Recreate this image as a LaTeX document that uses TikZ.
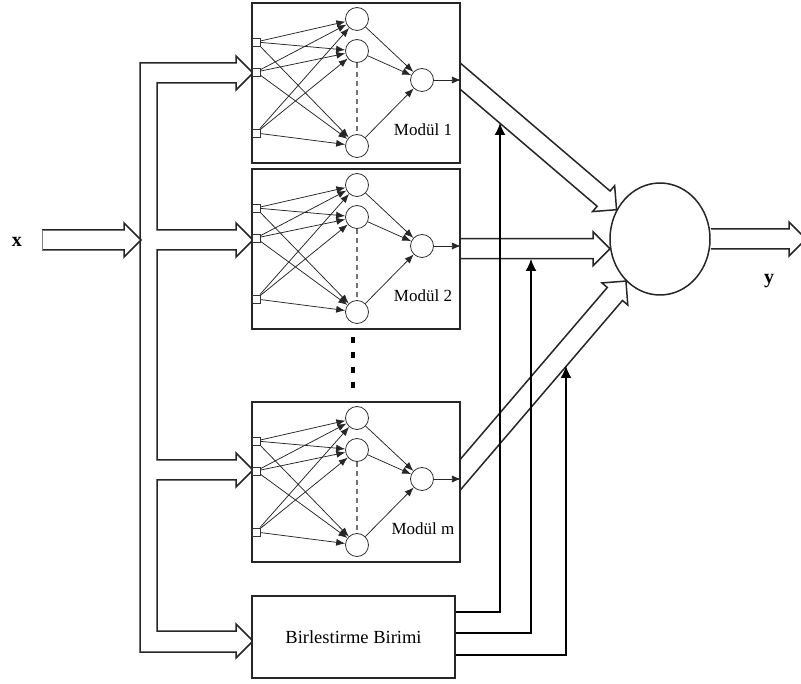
\documentclass[tikz,border=0pt]{standalone}
\usepackage{fontspec}
\setmainfont{Liberation Serif}
\usetikzlibrary{calc,arrows.meta,shapes.geometric}
\pgfdeclarelayer{bg}
\pgfsetlayers{bg,main}

\tikzset{
  modbox/.style={draw=black!85, line width=1.9pt, fill=white,
    minimum width=208pt, minimum height=160pt, inner sep=0pt},
  inp/.style={draw=black!80, line width=0.8pt, fill=white,
    minimum size=8pt, inner sep=0pt},
  neuron/.style={circle, draw=black!80, line width=0.8pt, fill=white,
    minimum size=23pt, inner sep=0pt},
  syn/.style={draw=black!85, line width=0.75pt, -{Latex[length=9pt,width=7pt]}},
  hiddots/.style={draw=black!55, line width=1.4pt, dash pattern=on 5pt off 4pt},
  modlabel/.style={font=\fontsize{17}{20}\selectfont, inner sep=0pt},
  hollow/.style={draw=black!85, fill=white, line width=1.5pt, line join=miter},
  gate/.style={draw=black, line width=1.4pt, -{Latex[length=12pt,width=11pt]}},
  combox/.style={draw=black!85, line width=1.6pt, fill=white,
    minimum width=203pt, minimum height=82pt, inner sep=0pt,
    font=\fontsize{18.5}{22}\selectfont},
  combiner/.style={ellipse, draw=black!85, line width=1.5pt, fill=white,
    minimum width=100pt, minimum height=112pt, inner sep=0pt},
  iolabel/.style={font=\bfseries\fontsize{20}{22}\selectfont, inner sep=0pt}
}

% hollow block arrow from #1 (tail) to #2 (tip)
\newcommand\blockarrow[2]{%
  \coordinate (ba-h) at ($(#2)!17pt!(#1)$);
  \path[hollow] ($(#1)!10pt!90:(#2)$) -- ($(ba-h)!10pt!-90:(#1)$)
    -- ($(ba-h)!17pt!-90:(#1)$) -- (#2) -- ($(ba-h)!17pt!90:(#1)$)
    -- ($(ba-h)!10pt!90:(#1)$) -- ($(#1)!10pt!-90:(#2)$);
}

% one expert network: box, inputs, hidden layer, output neuron
\newcommand\expertnet[3]{% #1 name, #2 vertical offset, #3 label
  \begin{scope}[shift={(0,#2)}]
    \node[modbox] (#1) at (356,83) {};
    \node[inp] (#1i1) at (256,42) {};
    \node[inp] (#1i2) at (256,72) {};
    \node[inp] (#1i3) at (256,133) {};
    \node[neuron] (#1h1) at (357,19) {};
    \node[neuron] (#1h2) at (357,51) {};
    \node[neuron] (#1h3) at (357,146) {};
    \node[neuron] (#1o) at (422,80) {};
    \node[modlabel] (#1l) at (423,130) {#3};
    \draw[hiddots] (#1h2) -- (#1h3);
    \foreach \i in {1,2,3}{\foreach \j in {1,2,3}{\draw[syn] (#1i\i) -- (#1h\j);}}
    \foreach \j in {1,2,3}{\draw[syn] (#1h\j) -- (#1o);}
    \coordinate (#1out) at (#1.east |- #1o);
    \draw[syn] (#1o) -- (#1out);
  \end{scope}
}

\begin{document}
\begin{tikzpicture}[x=1pt, y=-1pt]
  \useasboundingbox (0,0) rectangle (801,684);

  % experts and combining unit
  \expertnet{ma}{0}{Modül 1}
  \expertnet{mb}{166}{Modül 2}
  \expertnet{mc}{399}{Modül m}
  \node[combox] (comb) at (353.5,637) {Birlestirme Birimi};
  \node[combiner] (big) at (660,239) {};

  % "more modules" dots
  \coordinate (dotA) at (353,337);
  \coordinate (dotB) at (353,392);
  \draw[black, line width=4.5pt, dash pattern=on 6pt off 9pt] (dotA) -- (dotB);

  % labels
  \node[iolabel] (xl) at (17,242) {x};
  \node[iolabel] (yl) at (769,281) {y};

  % hollow arrows (behind the boxes, so their tails start at the box edges)
  \begin{pgfonlayer}{bg}
    % distribution bus to the experts and the combining unit
    \path[hollow] (236,63) -- (140,63) -- (140,652) -- (236,652) -- (236,658)
      -- (253,641) -- (236,624) -- (236,631) -- (157,631) -- (157,480)
      -- (236,480) -- (236,487) -- (253,470) -- (236,453) -- (236,460)
      -- (157,460) -- (157,250) -- (236,250) -- (236,257) -- (253,240)
      -- (236,223) -- (236,230) -- (157,230) -- (157,83) -- (236,83)
      -- (236,90) -- (253,73) -- (236,56) -- cycle;

    % expert outputs into the combiner
    \coordinate (maE) at (460,76);
    \coordinate (maS) at ($(maE)!-30pt!(big.146)$);
    \blockarrow{maS}{big.146}
    \coordinate (mbS) at ([xshift=-20pt]mb.east |- big.191);
    \blockarrow{mbS}{big.191}
    \coordinate (mcE) at (460,475);
    \coordinate (mcS) at ($(mcE)!-30pt!(big.231)$);
    \blockarrow{mcS}{big.231}

    % output y
    \coordinate (yEnd) at (806,239);
    \blockarrow{big.east}{yEnd}
  \end{pgfonlayer}

  % input x
  \coordinate (xS) at (42,240);
  \coordinate (xE) at (141,240);
  \blockarrow{xS}{xE}
  \draw[black!50, line width=1pt] (42,230) -- (42,250);

  % gating signals from the combining unit
  \coordinate (g1) at (500,123);
  \coordinate (g2) at (531,259);
  \coordinate (g3) at (566,366);
  \draw[gate] ([yshift=25pt]comb.east) -| (g1);
  \draw[gate] ([yshift=4pt]comb.east) -| (g2);
  \draw[gate] ([yshift=-18pt]comb.east) -| (g3);
\end{tikzpicture}
\end{document}
